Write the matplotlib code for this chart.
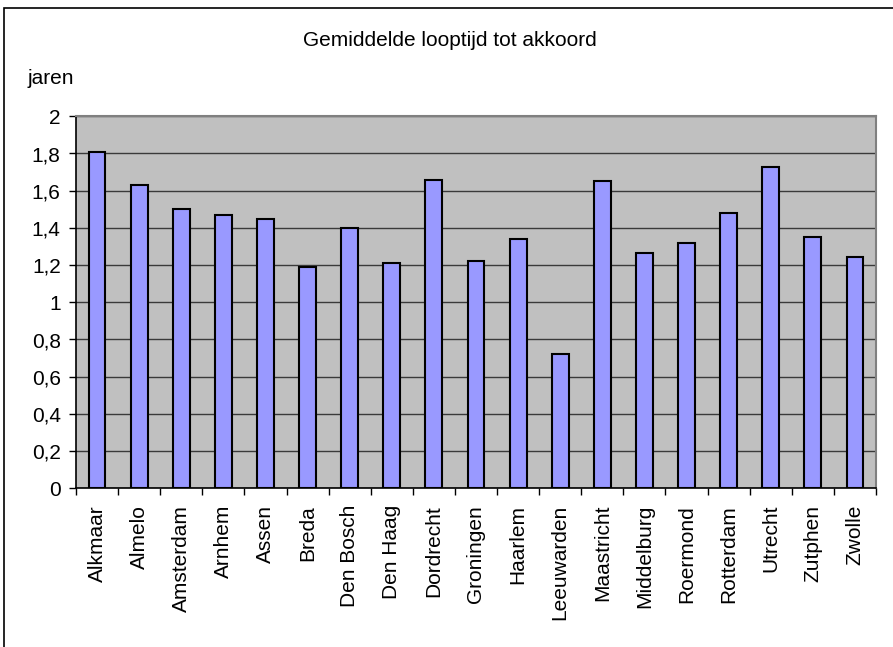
import matplotlib.pyplot as plt
from matplotlib.patches import Rectangle
import numpy as np

plt.rcParams['font.family'] = ['Liberation Sans', 'DejaVu Sans']

# gemiddelde looptijd per rechtbank (jaren)
rechtbanken = ['Alkmaar', 'Almelo', 'Amsterdam', 'Arnhem', 'Assen', 'Breda',
               'Den Bosch', 'Den Haag', 'Dordrecht', 'Groningen', 'Haarlem',
               'Leeuwarden', 'Maastricht', 'Middelburg', 'Roermond',
               'Rotterdam', 'Utrecht', 'Zutphen', 'Zwolle']
looptijd = [1.81, 1.63, 1.50, 1.47, 1.45, 1.19, 1.40, 1.21, 1.66, 1.22,
            1.34, 0.72, 1.65, 1.265, 1.32, 1.48, 1.73, 1.35, 1.245]
yticks = [0, 0.2, 0.4, 0.6, 0.8, 1.0, 1.2, 1.4, 1.6, 1.8, 2.0]
ylabels = ['0', '0,2', '0,4', '0,6', '0,8', '1', '1,2', '1,4', '1,6', '1,8', '2']

W, H = 893, 647
fig = plt.figure(figsize=(W / 100, H / 100), dpi=100)
ax = fig.add_axes([76 / W, 1 - 488.3 / H, 800 / W, 372 / H])

x = np.arange(len(rechtbanken))
ax.set_facecolor('#C0C0C0')
ax.bar(x, looptijd, width=0.4, color='#9999FF', edgecolor='black',
       linewidth=1.5, zorder=3)

ax.set_xlim(-0.5, len(rechtbanken) - 0.5)
ax.set_ylim(0, 2)
ax.set_yticks(yticks)
ax.set_yticklabels(ylabels, fontsize=15)
ax.yaxis.grid(True, color='#3a3a3a', linewidth=1, zorder=1)

# labels onder de staven, tickstreepjes tussen de categorieen
ax.set_xticks(x)
ax.set_xticklabels(rechtbanken, rotation=90, fontsize=15)
ax.set_xticks(np.arange(len(rechtbanken) + 1) - 0.5, minor=True)
ax.tick_params(axis='x', which='major', length=0, pad=12)
ax.tick_params(axis='x', which='minor', length=5, width=1, direction='out')
ax.tick_params(axis='y', length=5, width=1, direction='out', pad=6)

ax.spines['left'].set_color('black')
ax.spines['bottom'].set_color('black')
ax.spines['left'].set_linewidth(1.2)
ax.spines['bottom'].set_linewidth(1.2)
ax.spines['top'].set_color('#808080')
ax.spines['right'].set_color('#808080')
ax.spines['top'].set_linewidth(1.5)
ax.spines['right'].set_linewidth(1.5)

fig.text(450 / W, 1 - 41 / H, 'Gemiddelde looptijd tot akkoord',
         ha='center', va='center', fontsize=15)
fig.text(28 / W, 1 - 78 / H, 'jaren', ha='left', va='center', fontsize=15)

# kader rond de grafiek
fig.patches.append(Rectangle((4 / W, -0.1), 1.2, 1 - 8 / H + 0.1,
                             transform=fig.transFigure, fill=False,
                             edgecolor='black', linewidth=1.2))

fig.savefig('out.png', dpi=100)
